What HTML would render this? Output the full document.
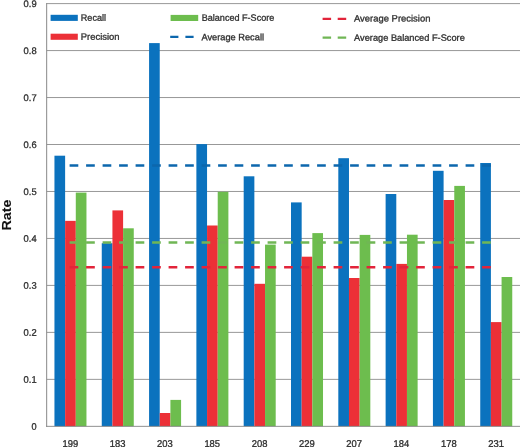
<!DOCTYPE html>
<html lang="en"><head><meta charset="utf-8"><title>Rate chart</title>
<style>html,body{margin:0;padding:0;background:#fff}svg{display:block;will-change:transform}text{font-family:"Liberation Sans",sans-serif;fill:#2e2e2e;stroke:#2e2e2e;stroke-width:0.3}</style></head><body>
<svg width="520" height="447" viewBox="0 0 520 447">
<g stroke="#7e7e7e" stroke-width="0.8" fill="none">
<line x1="46.65" y1="3.60" x2="520" y2="3.60"/>
<line x1="46.65" y1="50.57" x2="520" y2="50.57"/>
<line x1="46.65" y1="97.54" x2="520" y2="97.54"/>
<line x1="46.65" y1="144.51" x2="520" y2="144.51"/>
<line x1="46.65" y1="191.48" x2="520" y2="191.48"/>
<line x1="46.65" y1="238.45" x2="520" y2="238.45"/>
<line x1="46.65" y1="285.42" x2="520" y2="285.42"/>
<line x1="46.65" y1="332.39" x2="520" y2="332.39"/>
<line x1="46.65" y1="379.36" x2="520" y2="379.36"/>
</g>
<rect x="54.45" y="155.70" width="10.67" height="270.55" fill="#0b72be"/>
<rect x="65.12" y="220.85" width="10.67" height="205.40" fill="#ec3037"/>
<rect x="75.79" y="192.60" width="10.67" height="233.65" fill="#6dbd4e"/>
<rect x="101.76" y="243.20" width="10.67" height="183.05" fill="#0b72be"/>
<rect x="112.43" y="210.40" width="10.67" height="215.85" fill="#ec3037"/>
<rect x="123.10" y="228.30" width="10.67" height="197.95" fill="#6dbd4e"/>
<rect x="149.07" y="43.10" width="10.67" height="383.15" fill="#0b72be"/>
<rect x="159.74" y="413.00" width="10.67" height="13.25" fill="#ec3037"/>
<rect x="170.41" y="399.90" width="10.67" height="26.35" fill="#6dbd4e"/>
<rect x="196.38" y="144.10" width="10.67" height="282.15" fill="#0b72be"/>
<rect x="207.05" y="225.50" width="10.67" height="200.75" fill="#ec3037"/>
<rect x="217.72" y="191.80" width="10.67" height="234.45" fill="#6dbd4e"/>
<rect x="243.69" y="176.30" width="10.67" height="249.95" fill="#0b72be"/>
<rect x="254.36" y="283.80" width="10.67" height="142.45" fill="#ec3037"/>
<rect x="265.03" y="244.60" width="10.67" height="181.65" fill="#6dbd4e"/>
<rect x="291.00" y="202.40" width="10.67" height="223.85" fill="#0b72be"/>
<rect x="301.67" y="256.70" width="10.67" height="169.55" fill="#ec3037"/>
<rect x="312.34" y="233.10" width="10.67" height="193.15" fill="#6dbd4e"/>
<rect x="338.31" y="158.20" width="10.67" height="268.05" fill="#0b72be"/>
<rect x="348.98" y="278.00" width="10.67" height="148.25" fill="#ec3037"/>
<rect x="359.65" y="234.90" width="10.67" height="191.35" fill="#6dbd4e"/>
<rect x="385.62" y="194.00" width="10.67" height="232.25" fill="#0b72be"/>
<rect x="396.29" y="263.90" width="10.67" height="162.35" fill="#ec3037"/>
<rect x="406.96" y="234.70" width="10.67" height="191.55" fill="#6dbd4e"/>
<rect x="432.93" y="170.80" width="10.67" height="255.45" fill="#0b72be"/>
<rect x="443.60" y="200.00" width="10.67" height="226.25" fill="#ec3037"/>
<rect x="454.27" y="185.90" width="10.67" height="240.35" fill="#6dbd4e"/>
<rect x="480.24" y="163.00" width="10.67" height="263.25" fill="#0b72be"/>
<rect x="490.91" y="322.10" width="10.67" height="104.15" fill="#ec3037"/>
<rect x="501.58" y="277.00" width="10.67" height="149.25" fill="#6dbd4e"/>
<g stroke="#8e8e8e" stroke-width="1.05" fill="none">
<line x1="46.65" y1="3" x2="46.65" y2="426.65"/>
<line x1="46.15" y1="426.35" x2="520" y2="426.35" stroke="#7c7c7c" stroke-width="0.85"/>
</g>
<line x1="69.6" y1="165.50" x2="496.2" y2="165.50" stroke="#0c67ad" stroke-width="2.35" stroke-dasharray="8.7 7.8"/>
<line x1="69.6" y1="242.45" x2="496.2" y2="242.45" stroke="#70b655" stroke-width="2.35" stroke-dasharray="8.7 7.8"/>
<line x1="69.6" y1="267.20" x2="496.2" y2="267.20" stroke="#e2243a" stroke-width="2.35" stroke-dasharray="8.7 7.8"/>
<g font-size="9.6">
<text transform="translate(23.60 7.00) rotate(0.03)" textLength="13.0" lengthAdjust="spacingAndGlyphs">0.9</text>
<text transform="translate(23.60 53.97) rotate(0.03)" textLength="13.0" lengthAdjust="spacingAndGlyphs">0.8</text>
<text transform="translate(23.60 100.94) rotate(0.03)" textLength="13.0" lengthAdjust="spacingAndGlyphs">0.7</text>
<text transform="translate(23.60 147.91) rotate(0.03)" textLength="13.0" lengthAdjust="spacingAndGlyphs">0.6</text>
<text transform="translate(23.60 194.88) rotate(0.03)" textLength="13.0" lengthAdjust="spacingAndGlyphs">0.5</text>
<text transform="translate(23.60 241.85) rotate(0.03)" textLength="13.0" lengthAdjust="spacingAndGlyphs">0.4</text>
<text transform="translate(23.60 288.82) rotate(0.03)" textLength="13.0" lengthAdjust="spacingAndGlyphs">0.3</text>
<text transform="translate(23.60 335.79) rotate(0.03)" textLength="13.0" lengthAdjust="spacingAndGlyphs">0.2</text>
<text transform="translate(23.60 382.76) rotate(0.03)" textLength="13.0" lengthAdjust="spacingAndGlyphs">0.1</text>
<text transform="translate(31.50 429.73) rotate(0.03)" textLength="5.1" lengthAdjust="spacingAndGlyphs">0</text>
</g>
<g font-size="9.9">
<text transform="translate(62.46 447.05) rotate(0.03)" textLength="15.7" lengthAdjust="spacingAndGlyphs">199</text>
<text transform="translate(109.77 447.05) rotate(0.03)" textLength="15.7" lengthAdjust="spacingAndGlyphs">183</text>
<text transform="translate(157.08 447.05) rotate(0.03)" textLength="15.7" lengthAdjust="spacingAndGlyphs">203</text>
<text transform="translate(204.39 447.05) rotate(0.03)" textLength="15.7" lengthAdjust="spacingAndGlyphs">185</text>
<text transform="translate(251.70 447.05) rotate(0.03)" textLength="15.7" lengthAdjust="spacingAndGlyphs">208</text>
<text transform="translate(299.00 447.05) rotate(0.03)" textLength="15.7" lengthAdjust="spacingAndGlyphs">229</text>
<text transform="translate(346.31 447.05) rotate(0.03)" textLength="15.7" lengthAdjust="spacingAndGlyphs">207</text>
<text transform="translate(393.62 447.05) rotate(0.03)" textLength="15.7" lengthAdjust="spacingAndGlyphs">184</text>
<text transform="translate(440.93 447.05) rotate(0.03)" textLength="15.7" lengthAdjust="spacingAndGlyphs">178</text>
<text transform="translate(488.25 447.05) rotate(0.03)" textLength="15.7" lengthAdjust="spacingAndGlyphs">231</text>
</g>
<text transform="translate(11.0 230.5) rotate(-90)" font-size="12.6" font-weight="bold" style="fill:#111;stroke:#111;stroke-width:0.1" textLength="31.0" lengthAdjust="spacingAndGlyphs">Rate</text>
<rect x="50.6" y="14.8" width="27.2" height="6.1" fill="#0b72be"/>
<rect x="50.6" y="33.7" width="27.2" height="6.1" fill="#ec3037"/>
<rect x="170.6" y="14.9" width="27.6" height="6.1" fill="#6dbd4e"/>
<line x1="170.2" y1="36.8" x2="193.6" y2="36.8" stroke="#0c67ad" stroke-width="2.35" stroke-dasharray="8.2 7"/>
<line x1="322.6" y1="18.9" x2="346.2" y2="18.9" stroke="#e2243a" stroke-width="2.35" stroke-dasharray="8.5 6.6"/>
<line x1="322.6" y1="37.6" x2="346.2" y2="37.6" stroke="#70b655" stroke-width="2.35" stroke-dasharray="8.5 6.6"/>
<g font-size="9.2">
<text transform="translate(80.80 20.70) rotate(0.03)" textLength="25.2" lengthAdjust="spacingAndGlyphs">Recall</text>
<text transform="translate(80.80 39.70) rotate(0.03)" textLength="38.8" lengthAdjust="spacingAndGlyphs">Precision</text>
<text transform="translate(201.70 20.70) rotate(0.03)" textLength="72.6" lengthAdjust="spacingAndGlyphs">Balanced F-Score</text>
<text transform="translate(201.40 40.20) rotate(0.03)" textLength="62.6" lengthAdjust="spacingAndGlyphs">Average Recall</text>
<text transform="translate(354.00 21.50) rotate(0.03)" textLength="76.4" lengthAdjust="spacingAndGlyphs">Average Precision</text>
<text transform="translate(354.10 40.80) rotate(0.03)" textLength="110.7" lengthAdjust="spacingAndGlyphs">Average Balanced F-Score</text>
</g>
</svg></body></html>
